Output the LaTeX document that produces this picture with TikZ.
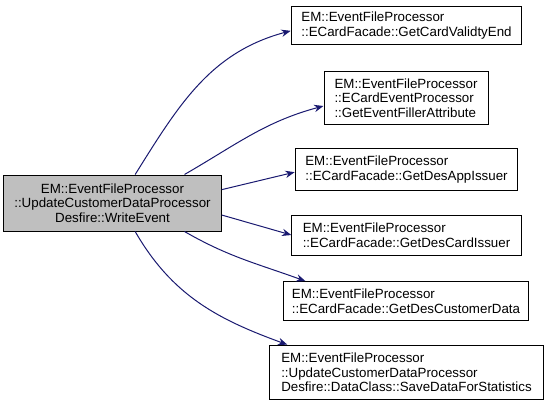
\documentclass[tikz,border=0pt]{standalone}
\usepackage{fontspec}
\setmainfont{Liberation Sans}
\usetikzlibrary{arrows.meta,calc,positioning}
\definecolor{edgeblue}{HTML}{191970}
\definecolor{srcgray}{HTML}{BFBFBF}

\begin{document}
\begin{tikzpicture}[>=Stealth,x=0.75pt,y=-0.75pt,
  fn/.style={draw,line width=0.75pt,align=left,inner sep=0pt,
    font=\fontsize{10}{11}\selectfont},
  call/.style={->,edgeblue,line width=0.75pt,
    arrows={-Stealth[length=7pt,width=5.5pt]}}]
\useasboundingbox (0,0) rectangle (549,406);
% caller
\node[fn,fill=srcgray,align=center,minimum width=163pt,minimum height=42pt]
  (caller) at (112.5,203) {EM::EventFileProcessor\\::UpdateCustomerDataProcessor\\Desfire::WriteEvent};
% callees
\node[fn,minimum width=173pt,minimum height=29pt] (cardEnd) at (406.5,25.5)
  {EM::EventFileProcessor\\::ECardFacade::GetCardValidtyEnd};
\node[fn,minimum width=123pt,minimum height=40pt] (fillerAttr) at (406,98)
  {EM::EventFileProcessor\\::ECardEventProcessor\\::GetEventFillerAttribute};
\node[fn,minimum width=167pt,minimum height=31pt] (appIssuer) at (406.5,169.5)
  {EM::EventFileProcessor\\::ECardFacade::GetDesAppIssuer};
\node[fn,minimum width=172pt,minimum height=30pt] (cardIssuer) at (406.5,235)
  {EM::EventFileProcessor\\::ECardFacade::GetDesCardIssuer};
\node[fn,minimum width=184pt,minimum height=29pt] (custData) at (406,301)
  {EM::EventFileProcessor\\::ECardFacade::GetDesCustomerData};
\node[fn,minimum width=206pt,minimum height=41pt] (saveStats) at (406.5,372.5)
  {EM::EventFileProcessor\\::UpdateCustomerDataProcessor\\Desfire::DataClass::SaveDataForStatistics};
% calls
\draw[call] ([xshift=17pt]caller.north) to[out=58,in=195] ([yshift=-4pt]cardEnd.west);
\draw[call] ([xshift=54pt]caller.north) to[out=30,in=195] ([yshift=-6pt]fillerAttr.west);
\draw[call] ([yshift=10pt]caller.east) -- ([yshift=-2pt]appIssuer.west);
\draw[call] ([yshift=-9pt]caller.east) -- (cardIssuer.west);
\draw[call] ([xshift=54pt]caller.south) to[out=-30,in=160] ([xshift=17pt]custData.north west);
\draw[call] ([xshift=17pt]caller.south) to[out=-60,in=160] ([xshift=14pt]saveStats.north west);
\end{tikzpicture}
\end{document}
